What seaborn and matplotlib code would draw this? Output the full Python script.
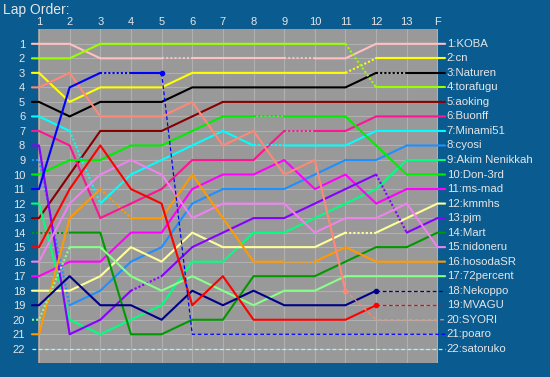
import matplotlib
matplotlib.use('Agg')
import matplotlib.pyplot as plt
import seaborn as sns
import pandas as pd

# lap labels (F = finish)
lap_labels = ['1', '2', '3', '4', '5', '6', '7', '8', '9', '10', '11', '12', '13', 'F']

# drivers in finishing order
drivers = ['KOBA', 'cn', 'Naturen', 'torafugu', 'aoking', 'Buonff', 'Minami51',
           'cyosi', 'Akim Nenikkah', 'Don-3rd', 'ms-mad', 'kmmhs', 'pjm', 'Mart',
           'nidoneru', 'hosodaSR', '72percent', 'Nekoppo', 'MVAGU', 'SYORI',
           'poaro', 'satoruko']

colors = ['#ffc0c0', '#ffff00', '#000000', '#99ff00', '#880000', '#ff1493',
          '#00ffff', '#1e90ff', '#00ff80', '#00ee00', '#ff00ff', '#ffff99',
          '#8800ff', '#009900', '#ee82ee', '#ff9900', '#88ff88', '#000088',
          '#ff0000', '#ff8877', '#0000ff', '#99ffff']

# position of each driver after each lap
koba = [1, 1, 2, 2, 2, 2, 2, 2, 2, 2, 2, 1, 1, 1]
cn = [3, 5, 4, 4, 4, 3, 3, 3, 3, 3, 3, 2, 2, 2]
naturen = [5, 6, 5, 5, 5, 4, 4, 4, 4, 4, 4, 3, 3, 3]
torafugu = [2, 2, 1, 1, 1, 1, 1, 1, 1, 1, 1, 4, 4, 4]
aoking = [13, 10, 7, 7, 7, 6, 5, 5, 5, 5, 5, 5, 5, 5]
buonff = [7, 8, 13, 12, 11, 9, 9, 9, 7, 7, 7, 6, 6, 6]
minami51 = [6, 7, 12, 10, 9, 8, 7, 8, 8, 8, 8, 7, 7, 7]
cyosi = [9, 19, 18, 16, 15, 12, 11, 11, 11, 10, 9, 9, 8, 8]
akim = [12, 20, 21, 20, 19, 16, 16, 14, 14, 13, 12, 11, 9, 9]
don3rd = [10, 9, 9, 8, 8, 7, 6, 6, 6, 6, 6, 8, 10, 10]
msmad = [17, 16, 16, 14, 14, 11, 10, 10, 9, 11, 10, 12, 11, 11]
kmmhs = [18, 18, 17, 15, 16, 14, 15, 15, 15, 15, 14, 14, 13, 12]
pjm = [8, 21, 20, 18, 17, 15, 14, 13, 13, 12, 11, 10, 14, 13]
mart = [14, 14, 14, 21, 21, 20, 20, 17, 17, 17, 16, 15, 15, 14]
nidoneru = [16, 12, 10, 9, 10, 13, 12, 12, 12, 14, 13, 13, 12, 15]
hosodasr = [21, 13, 11, 13, 13, 10, 13, 16, 16, 16, 15, 16, 16, 16]
p72 = [20, 15, 15, 17, 18, 17, 18, 19, 18, 18, 17, 17, 17, 17]
nekoppo = [19, 17, 19, 19, 20, 18, 19, 18, 19, 19, 19, 18, 18, 18]
mvagu = [15, 11, 8, 11, 12, 19, 17, 20, 20, 20, 20, 19, 19, 19]
syori = [4, 3, 6, 6, 6, 5, 8, 7, 10, 9, 18, 20, 20, 20]
poaro = [11, 4, 3, 3, 3, 21, 21, 21, 21, 21, 21, 21, 21, 21]
satoruko = [22] * 14

positions = [koba, cn, naturen, torafugu, aoking, buonff, minami51, cyosi, akim,
             don3rd, msmad, kmmhs, pjm, mart, nidoneru, hosodasr, p72, nekoppo,
             mvagu, syori, poaro, satoruko]

# laps where a dotted segment starts
dotted = {'KOBA': [5, 9], 'torafugu': [11], 'cn': [11], 'Naturen': [12],
          'poaro': [3], 'Minami51': [2, 8], 'Buonff': [9], 'cyosi': [1],
          'Don-3rd': [8], 'pjm': [4, 12], 'Mart': [1], 'kmmhs': [11],
          '72percent': [1], 'hosodaSR': [3, 9]}
# lap after which the line becomes dashed (retired)
retired = {'poaro': 5, 'SYORI': 11, 'MVAGU': 12, 'Nekoppo': 12, 'satoruko': 1}

bg = '#0a5b8f'
txt = '#e6e6e6'

sns.set_style('dark')
plt.rcParams['font.family'] = ['Liberation Sans', 'DejaVu Sans']

fig = plt.figure(figsize=(5.5, 3.77), dpi=100, facecolor=bg)
ax = fig.add_axes([0.0685, 0.0363, 0.7285, 0.886])
ax.set_facecolor('#999999')

laps = list(range(1, len(lap_labels) + 1))
last = laps[-1]

for i, name in enumerate(drivers):
    pos = positions[i]
    col = colors[i]
    ret = retired.get(name)
    # style of each segment lap k -> k+1
    styles = []
    for k in laps[:-1]:
        if ret is not None and k >= ret:
            styles.append('dash')
        elif k in dotted.get(name, []):
            styles.append('dot')
        else:
            styles.append('solid')
    # group consecutive segments with the same style
    runs = []
    start = 0
    for j in range(1, len(styles) + 1):
        if j == len(styles) or styles[j] != styles[start]:
            runs.append((start, j, styles[start]))
            start = j
    for a, b, st in runs:
        xs = laps[a:b + 1]
        ys = pos[a:b + 1]
        if a == 0:
            xs = [0.77] + xs
            ys = [pos[0]] + ys
        if b == len(styles):
            xs = xs + [last + 0.25]
            ys = ys + [pos[-1]]
        df = pd.DataFrame({'lap': xs, 'pos': ys})
        if st == 'solid':
            kw = dict(linewidth=1.5, linestyle='-')
        elif st == 'dot':
            kw = dict(linewidth=1.5, linestyle=(0, (1, 1)))
        else:
            kw = dict(linewidth=0.9, linestyle=(0, (3, 2)))
        sns.lineplot(data=df, x='lap', y='pos', color=col, sort=False,
                     estimator=None, ax=ax, **kw)
        ax.lines[-1].set_clip_on(False)
    if ret is not None and ret > 1:
        ax.plot(ret, pos[ret - 1], 'o', color=col, markersize=3, clip_on=False)
    ax.text(last + 0.3, pos[-1], f'{pos[-1]}:{name}', color=txt, fontsize=8.2,
            va='center', ha='left', clip_on=False)

ax.set_xlim(0.957, last + 0.03)
ax.set_ylim(23, 0)
ax.set_xticks(laps)
ax.set_xticklabels(lap_labels)
ax.xaxis.tick_top()
ax.set_yticks(range(1, 23))
ax.tick_params(axis='x', length=0, pad=2, labelsize=8, colors=txt)
ax.tick_params(axis='y', length=0, pad=9, labelsize=8, colors=txt)
ax.set_xlabel('')
ax.set_ylabel('')
ax.grid(True, color='#b0b0b0', linewidth=0.8)
ax.set_axisbelow(True)
for s in ax.spines.values():
    s.set_visible(False)

fig.text(3 / 550, 1 - 3 / 377, 'Lap Order:', color=txt, fontsize=10,
         ha='left', va='top')

fig.savefig('out.png', dpi=100, facecolor=bg)
